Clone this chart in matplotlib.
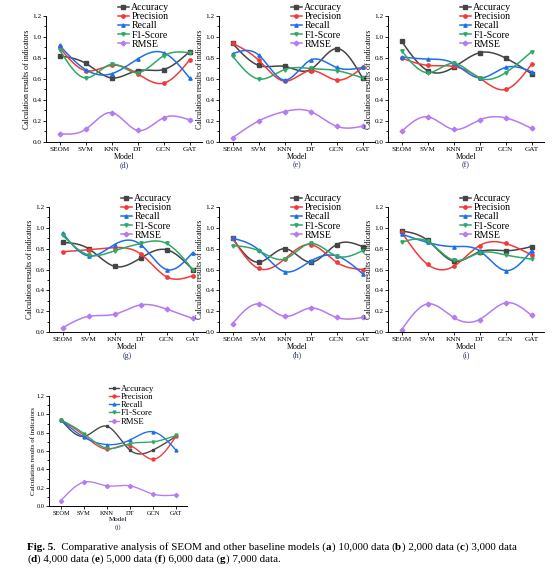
import numpy as np
import matplotlib
matplotlib.use("Agg")
import matplotlib.pyplot as plt
from matplotlib.ticker import MultipleLocator
from matplotlib.transforms import IdentityTransform

plt.rcParams["font.family"] = ["Liberation Serif", "DejaVu Serif"]

models = ["SEOM", "SVM", "KNN", "DT", "GCN", "GAT"]
metrics = ["Accuracy", "Precision", "Recall", "F1-Score", "RMSE"]

# valeurs : Accuracy, Precision, Recall, F1-Score, RMSE
panel_d = [[0.82, 0.75, 0.61, 0.68, 0.69, 0.86],
           [0.90, 0.68, 0.73, 0.65, 0.56, 0.78],
           [0.92, 0.69, 0.65, 0.79, 0.85, 0.61],
           [0.88, 0.61, 0.74, 0.66, 0.82, 0.85],
           [0.08, 0.12, 0.28, 0.11, 0.23, 0.21]]
panel_e = [[0.94, 0.73, 0.72, 0.69, 0.89, 0.61],
           [0.94, 0.78, 0.58, 0.68, 0.59, 0.71],
           [0.84, 0.83, 0.59, 0.78, 0.71, 0.71],
           [0.82, 0.60, 0.69, 0.70, 0.68, 0.61],
           [0.04, 0.20, 0.29, 0.29, 0.15, 0.15]]
panel_f = [[0.96, 0.68, 0.71, 0.85, 0.80, 0.65],
           [0.80, 0.73, 0.72, 0.61, 0.50, 0.74],
           [0.81, 0.79, 0.75, 0.61, 0.71, 0.67],
           [0.87, 0.66, 0.75, 0.61, 0.66, 0.86],
           [0.10, 0.24, 0.12, 0.21, 0.23, 0.13]]
panel_g = [[0.86, 0.80, 0.63, 0.71, 0.79, 0.60],
           [0.77, 0.79, 0.81, 0.75, 0.53, 0.54],
           [0.95, 0.73, 0.84, 0.84, 0.60, 0.76],
           [0.93, 0.74, 0.78, 0.85, 0.85, 0.60],
           [0.04, 0.15, 0.17, 0.26, 0.22, 0.13]]
panel_h = [[0.90, 0.67, 0.80, 0.67, 0.84, 0.82],
           [0.90, 0.61, 0.70, 0.84, 0.67, 0.60],
           [0.90, 0.79, 0.58, 0.68, 0.73, 0.56],
           [0.83, 0.78, 0.70, 0.85, 0.73, 0.78],
           [0.08, 0.27, 0.15, 0.23, 0.14, 0.14]]
panel_i = [[0.97, 0.88, 0.68, 0.77, 0.78, 0.82],
           [0.96, 0.65, 0.63, 0.83, 0.85, 0.74],
           [0.94, 0.86, 0.82, 0.78, 0.59, 0.78],
           [0.86, 0.87, 0.69, 0.76, 0.74, 0.70],
           [0.02, 0.27, 0.14, 0.12, 0.28, 0.16]]
panel_j = [[0.94, 0.76, 0.87, 0.61, 0.61, 0.76],
           [0.94, 0.77, 0.62, 0.66, 0.51, 0.76],
           [0.94, 0.75, 0.67, 0.72, 0.81, 0.61],
           [0.94, 0.79, 0.63, 0.68, 0.70, 0.77],
           [0.06, 0.26, 0.22, 0.22, 0.13, 0.12]]

colors = ["#454545", "#f23a3a", "#1f6fe8", "#2fa866", "#b47cf0"]
markers = ["s", "o", "^", "v", "D"]

W, H = 558, 580
fig = plt.figure(figsize=(W / 100, H / 100), dpi=100)


def spline(y, n=200):
    """Spline cubique naturelle (pas unitaire), comme la liaison 'Spline' d'Origin"""
    y = np.asarray(y, float)
    k = len(y)
    A = np.zeros((k, k))
    b = np.zeros(k)
    A[0, 0] = A[-1, -1] = 1
    for i in range(1, k - 1):
        A[i, i - 1:i + 2] = [1, 4, 1]
        b[i] = 6 * (y[i + 1] - 2 * y[i] + y[i - 1])
    M = np.linalg.solve(A, b)
    xs = np.linspace(0, k - 1, n)
    i = np.clip(np.floor(xs).astype(int), 0, k - 2)
    t = xs - i
    ys = (M[i] * (1 - t) ** 3 / 6 + M[i + 1] * t ** 3 / 6
          + (y[i] - M[i] / 6) * (1 - t) + (y[i + 1] - M[i + 1] / 6) * t)
    return xs, ys


def draw_panel(values, letter, left, top, w, h, s=1.0, leg_dx=72):
    ax = fig.add_axes([left / W, 1 - (top + h) / H, w / W, h / H])
    x = np.arange(len(models))
    for vals, c, m, name in zip(values, colors, markers, metrics):
        xs, ys = spline(vals)
        ax.plot(xs, ys, color=c, lw=1.1 * s)
        ax.plot(x, vals, ls="none", marker=m, ms=2.4 * s, color=c)
        ax.plot([], [], color=c, lw=1.1 * s, marker=m, ms=2.4 * s, label=name)
    ax.set_xlim(-0.52, 5.48)
    ax.set_ylim(0, 1.2)
    ax.set_xticks(x)
    ax.set_xticklabels(models)
    ax.yaxis.set_major_locator(MultipleLocator(0.2))
    ax.yaxis.set_minor_locator(MultipleLocator(0.1))
    ax.yaxis.set_major_formatter(lambda v, p: f"{v:.1f}")
    for sp in ("top", "right"):
        ax.spines[sp].set_visible(False)
    for sp in ("left", "bottom"):
        ax.spines[sp].set_linewidth(0.7)
    ax.tick_params(which="both", direction="out", width=0.6, labelsize=5.2 * s, pad=1.2)
    ax.tick_params(which="major", length=2.2)
    ax.tick_params(which="minor", length=1.4)
    ax.tick_params(axis="x", which="minor", bottom=False)
    ax.set_ylabel("Calculation results of indicators", fontsize=5.6 * s, labelpad=0.5)
    ax.legend(loc="upper left", bbox_to_anchor=(leg_dx / w, 1 + (13 * s) / h),
              frameon=False, fontsize=7.1 * s, handlelength=1.1, handletextpad=0.25,
              labelspacing=0.02, borderaxespad=0, borderpad=0)
    cx = left + w / 2
    fig.text(cx / W, 1 - (top + h + 15 * s) / H, "Model", fontsize=5.8 * s,
             ha="center", va="center")
    fig.text(cx / W, 1 - (top + h + 23.5 * s) / H, f"({letter})", fontsize=5.8 * s,
             ha="center", va="center", color="#25346a")
    return ax


draw_panel(panel_d, "d", 46, 16, 156, 126)
draw_panel(panel_e, "e", 219, 16, 156, 126)
draw_panel(panel_f, "f", 388, 16, 156, 126)
draw_panel(panel_g, "g", 49, 207, 156, 125)
draw_panel(panel_h, "h", 219, 207, 156, 125)
draw_panel(panel_i, "i", 388, 207, 156, 125)
draw_panel(panel_j, "j", 49, 396, 138, 110, s=0.88, leg_dx=60)

# Légende de la figure, avec les parties en gras
renderer = fig.canvas.get_renderer()


def width_of(txt, bold, size):
    wt = "bold" if bold else "normal"
    t1 = fig.text(0, 0, "x" + txt + "x", fontsize=size, fontweight=wt)
    t2 = fig.text(0, 0, "xx", fontsize=size, fontweight=wt)
    w = t1.get_window_extent(renderer).width - t2.get_window_extent(renderer).width
    t1.remove()
    t2.remove()
    return w


def rich_line(x, y, parts, size=7.9):
    for txt, bold in parts:
        fig.text(x, H - y, txt, fontsize=size, fontweight="bold" if bold else "normal",
                 ha="left", va="center", transform=IdentityTransform())
        x += width_of(txt, bold, size)


rich_line(27, 547, [("Fig. 5", True), (".  Comparative analysis of SEOM and other baseline models (", False),
                    ("a", True), (") 10,000 data (", False), ("b", True), (") 2,000 data (", False),
                    ("c", True), (") 3,000 data", False)])
rich_line(27, 559, [("(", False), ("d", True), (") 4,000 data (", False), ("e", True),
                    (") 5,000 data (", False), ("f", True), (") 6,000 data (", False),
                    ("g", True), (") 7,000 data.", False)])

fig.savefig("out.png", dpi=100)
